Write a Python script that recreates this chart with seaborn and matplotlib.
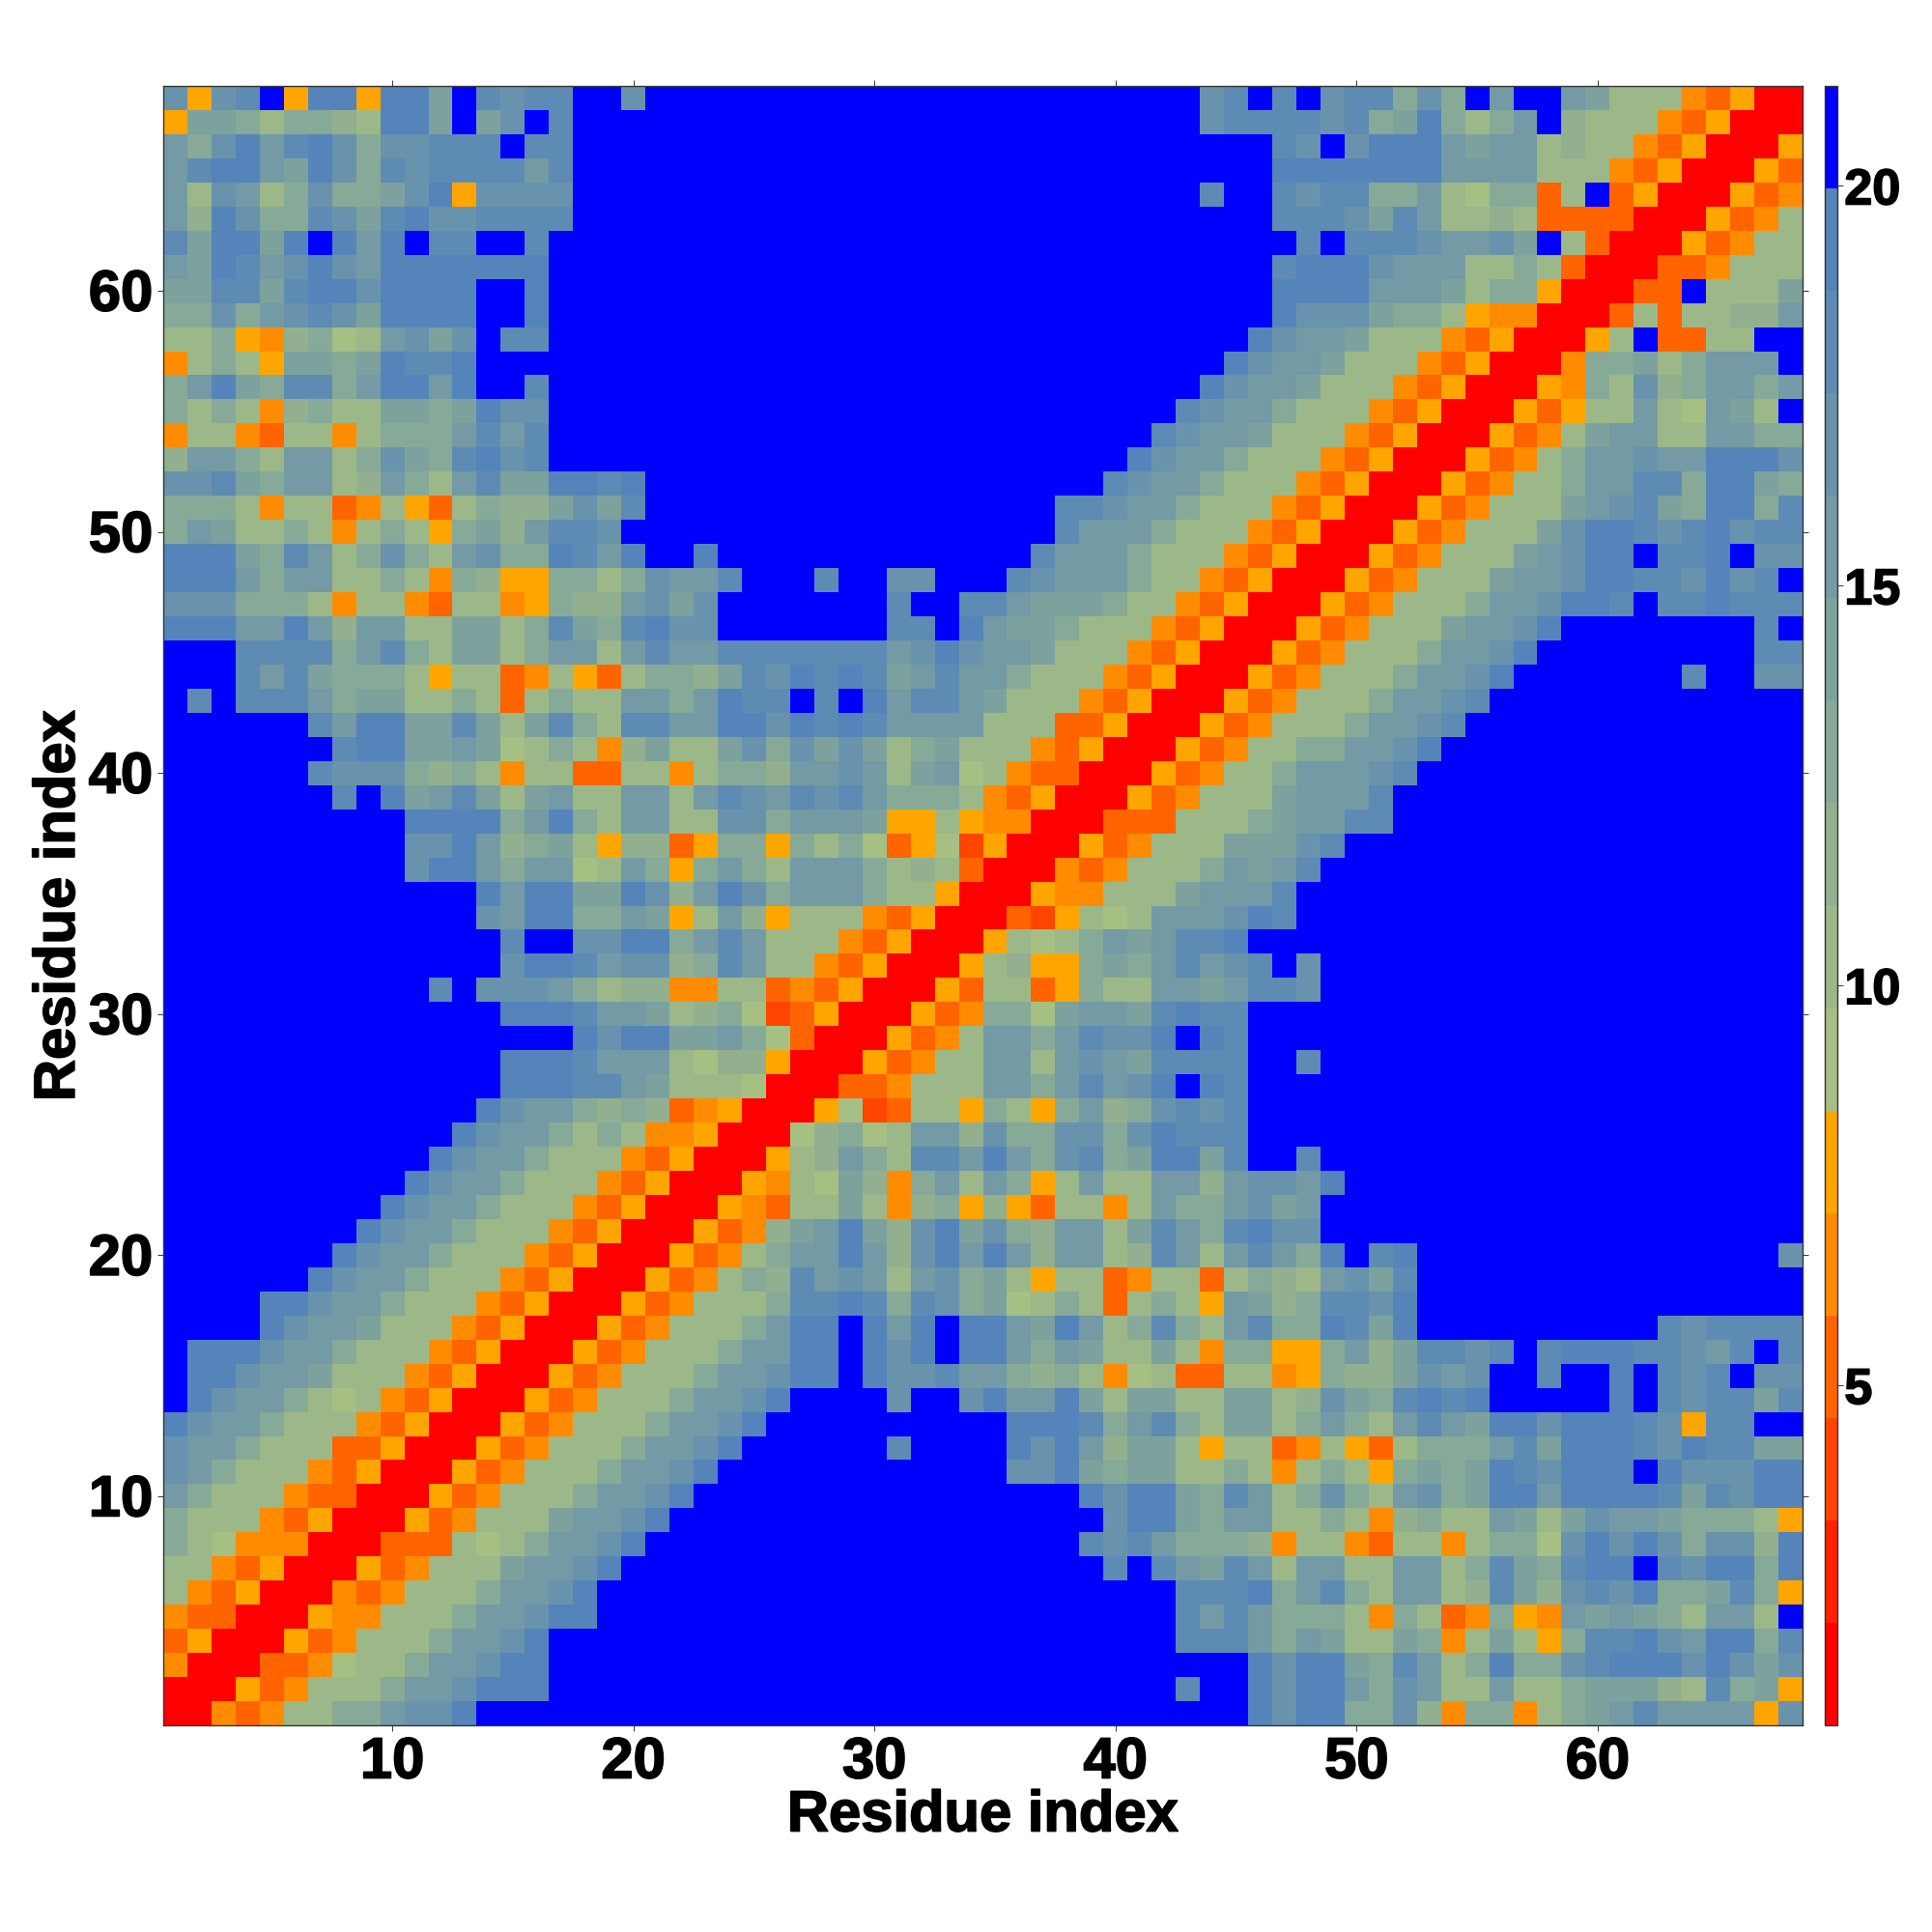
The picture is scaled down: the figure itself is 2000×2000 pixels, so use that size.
import numpy as np
import pandas as pd
import seaborn as sns
import matplotlib.pyplot as plt
import matplotlib.patheffects as pe
from matplotlib.colors import ListedColormap
from matplotlib.transforms import ScaledTranslation

# pair distances, one list per residue (the map is symmetric)
r68 = [17,8,17,18,21,8,19,19,8,19,19,14,21,18,17,18,18,21,21,17,21,21,21,21,21,21,21,21,21,21,21,21,21,21,21,21,21,21,21,21,21,21,21,17,18,21,18,21,17,18,18,13,17,13,21,15,21,21,15,14,10,10,10,7,5,8,1,1]
r67 = [8,14,14,13,10,13,13,12,10,19,19,14,21,14,17,21,18,21,21,21,21,21,21,21,21,21,21,21,21,21,21,21,21,21,21,21,21,21,21,21,21,21,21,17,18,18,18,18,17,18,13,14,19,13,10,13,15,21,12,10,10,10,7,5,8,1,1]
r66 = [15,13,17,19,15,18,19,17,13,17,17,18,18,18,21,18,18,21,21,21,21,21,21,21,21,21,21,21,21,21,21,21,21,21,21,21,21,21,21,21,21,21,21,21,21,21,18,17,21,17,19,19,19,15,14,15,15,10,12,10,10,7,5,8,1,1]
r65 = [15,18,19,19,15,14,19,17,13,18,17,18,18,18,18,15,18,21,21,21,21,21,21,21,21,21,21,21,21,21,21,21,21,21,21,21,21,21,21,21,21,21,21,21,21,21,19,19,19,19,19,19,19,15,15,15,15,10,10,10,7,5,8,1,1]
r64 = [15,10,17,15,10,13,17,13,13,14,17,19,8,17,17,17,17,21,21,21,21,21,21,21,21,21,21,21,21,21,21,21,21,21,21,21,21,21,21,21,21,21,21,18,21,21,18,17,18,18,13,13,15,10,9,13,13,5,10,21,5,8,1,1]
r63 = [15,12,19,17,13,13,18,17,14,18,19,17,17,18,18,18,18,21,21,21,21,21,21,21,21,21,21,21,21,21,21,21,21,21,21,21,21,21,21,21,21,21,21,21,21,21,18,18,18,17,14,18,15,10,10,12,10,5,5,5,5,1,1]
r62 = [18,14,19,19,14,19,21,19,15,19,21,18,18,21,21,18,21,21,21,21,21,21,21,21,21,21,21,21,21,21,21,21,21,21,21,21,21,21,21,21,21,21,21,21,21,21,21,18,21,18,18,18,17,15,15,17,14,21,10,5,1,1]
r61 = [15,14,19,18,15,17,19,17,15,19,19,19,19,19,19,19,21,21,21,21,21,21,21,21,21,21,21,21,21,21,21,21,21,21,21,21,21,21,21,21,21,21,21,21,21,21,18,19,19,19,17,15,15,15,10,10,13,10,5,1,1]
r60 = [14,14,18,18,14,18,19,19,17,19,19,19,19,21,21,19,21,21,21,21,21,21,21,21,21,21,21,21,21,21,21,21,21,21,21,21,21,21,21,21,21,21,21,21,21,21,19,19,19,19,15,15,15,14,10,13,13,8,1,1]
r59 = [13,13,17,13,15,17,18,17,14,19,19,19,19,21,21,19,21,21,21,21,21,21,21,21,21,21,21,21,21,21,21,21,21,21,21,21,21,21,21,21,21,21,21,21,21,21,19,17,17,17,14,13,13,10,8,7,7,1,1]
r58 = [10,10,13,8,7,12,13,9,10,15,17,14,17,21,18,18,21,21,21,21,21,21,21,21,21,21,21,21,21,21,21,21,21,21,21,21,21,21,21,21,21,21,21,21,21,19,17,15,15,14,10,10,10,7,5,8,1,1]
r57 = [7,10,13,10,8,14,14,13,14,19,18,18,19,21,21,21,21,21,21,21,21,21,21,21,21,21,21,21,21,21,21,21,21,21,21,21,21,21,21,21,21,21,21,21,19,17,15,15,14,10,10,10,7,5,8,1,1]
r56 = [13,15,19,14,13,18,18,13,15,19,19,15,19,21,21,18,21,21,21,21,21,21,21,21,21,21,21,21,21,21,21,21,21,21,21,21,21,21,21,21,21,21,21,19,17,15,15,14,10,10,10,7,5,8,1,1]
r55 = [13,10,13,10,7,12,13,10,10,14,14,13,14,19,17,17,21,21,21,21,21,21,21,21,21,21,21,21,21,21,21,21,21,21,21,21,21,21,21,21,21,21,18,17,15,15,13,10,10,10,7,5,8,1,1]
r54 = [7,10,10,7,5,10,10,7,10,13,13,13,15,18,15,18,21,21,21,21,21,21,21,21,21,21,21,21,21,21,21,21,21,21,21,21,21,21,21,21,21,18,17,15,15,14,10,10,10,7,5,8,1,1]
r53 = [12,15,15,13,10,15,15,10,13,17,14,13,18,19,17,18,21,21,21,21,21,21,21,21,21,21,21,21,21,21,21,21,21,21,21,21,21,21,21,21,19,17,15,15,13,10,10,10,7,5,8,1,1]
r52 = [17,17,18,14,13,15,15,10,12,15,13,10,15,18,14,14,19,19,18,19,21,21,21,21,21,21,21,21,21,21,21,21,21,21,21,21,21,21,21,18,17,15,15,13,10,10,10,7,5,8,1,1]
r51 = [13,13,13,10,7,10,10,5,7,10,8,5,10,13,12,12,14,17,14,18,21,21,21,21,21,21,21,21,21,21,21,21,21,21,21,21,21,18,18,17,15,15,13,10,10,10,7,5,8,1,1]
r50 = [13,15,14,10,10,13,10,7,10,13,10,8,13,14,12,15,18,18,17,21,21,21,21,21,21,21,21,21,21,21,21,21,21,21,21,21,21,18,15,15,15,13,10,10,10,7,5,8,1,1]
r49 = [19,19,19,14,13,18,15,10,13,17,13,10,15,17,13,13,19,18,15,19,21,21,19,21,21,21,21,21,21,21,21,21,21,21,21,21,18,15,15,15,13,10,10,10,7,5,8,1,1]
r48 = [19,19,19,15,13,15,15,10,10,13,10,7,13,12,8,8,13,13,10,13,17,15,15,18,21,21,21,18,21,21,17,17,21,21,21,18,17,15,15,15,13,10,10,7,5,8,1,1]
r47 = [17,17,17,13,13,13,10,7,10,10,7,5,10,10,7,8,13,12,12,15,17,14,17,21,21,21,21,21,21,21,18,21,21,18,18,15,14,14,14,13,10,10,7,5,8,1,1]
r46 = [19,19,19,15,15,19,15,12,15,15,10,10,14,14,10,13,18,14,13,18,19,17,17,21,21,21,21,21,21,21,18,18,21,19,15,14,14,13,10,10,10,7,5,8,1,1]
r45 = [21,21,21,18,18,18,18,13,15,18,13,10,14,14,10,13,15,15,10,15,18,15,15,18,18,18,18,18,18,18,15,17,19,17,15,15,14,10,10,10,7,5,8,1,1]
r44 = [21,21,21,18,15,18,14,13,13,13,10,8,10,10,5,7,10,8,5,10,13,13,12,14,18,17,19,18,19,18,14,15,18,15,15,13,10,10,10,7,5,8,1,1]
r43 = [21,18,21,18,18,18,15,13,14,14,10,10,13,10,5,10,13,10,10,15,15,13,15,19,18,18,21,18,21,19,15,18,18,15,14,10,10,10,7,5,8,1,1]
r42 = [21,21,21,21,21,21,18,15,19,19,14,14,18,14,10,14,18,13,10,18,18,15,15,19,19,17,19,18,19,18,15,15,15,15,10,10,10,5,5,8,1,1]
r41 = [21,21,21,21,21,21,21,18,19,19,14,14,15,14,9,10,13,10,7,12,14,10,10,14,17,13,17,14,17,14,10,13,14,10,10,10,7,5,8,1,1]
r40 = [21,21,21,21,21,21,18,17,17,17,13,12,13,10,7,10,10,5,5,10,10,7,10,13,13,12,15,15,17,15,10,14,15,9,10,7,5,5,1,1]
r39 = [21,21,21,21,21,21,21,18,21,19,14,15,18,14,10,14,15,10,10,15,15,10,15,18,17,15,18,17,18,15,13,13,13,10,7,5,8,1,1]
r38 = [21,21,21,21,21,21,21,21,21,21,19,19,19,19,13,15,19,13,10,15,15,10,10,17,17,13,15,15,15,14,8,8,10,8,7,7,1,1]
r37 = [21,21,21,21,21,21,21,21,21,21,17,17,19,15,12,13,14,10,8,12,12,5,8,13,13,8,13,10,13,9,5,8,9,4,8,1,1]
r36 = [21,21,21,21,21,21,21,21,21,21,17,19,19,15,13,15,15,9,10,15,13,8,13,15,13,10,15,15,15,13,10,12,10,5,1,1]
r35 = [21,21,21,21,21,21,21,21,21,21,21,21,21,19,15,19,19,14,14,19,17,12,15,19,17,13,15,15,15,13,10,10,8,1,1]
r34 = [21,21,21,21,21,21,21,21,21,21,21,21,21,17,15,19,19,13,13,15,14,8,10,15,12,8,10,10,10,7,5,8,1,1]
r33 = [21,21,21,21,21,21,21,21,21,21,21,21,21,21,18,21,21,17,17,19,19,13,15,18,15,10,10,10,7,5,8,1,1]
r32 = [21,21,21,21,21,21,21,21,21,21,21,21,21,21,17,19,19,18,15,17,17,12,13,18,15,10,10,7,5,8,1,1]
r31 = [21,21,21,21,21,21,21,21,21,21,21,18,21,17,17,17,15,13,10,12,12,7,7,10,10,5,7,5,8,1,1]
r30 = [21,21,21,21,21,21,21,21,21,21,21,21,21,21,19,19,19,18,15,15,14,10,12,13,9,4,5,8,1,1]
r29 = [21,21,21,21,21,21,21,21,21,21,21,21,21,21,21,21,21,19,17,19,19,14,14,15,13,9,5,1,1]
r28 = [21,21,21,21,21,21,21,21,21,21,21,21,21,21,19,19,19,18,15,15,15,10,9,12,12,8,1,1]
r27 = [21,21,21,21,21,21,21,21,21,21,21,21,21,21,19,19,19,18,18,15,14,10,10,10,9,1,1]
r26 = [21,21,21,21,21,21,21,21,21,21,21,21,21,19,17,15,15,13,12,13,12,5,7,8,1,1]
r25 = [21,21,21,21,21,21,21,21,21,21,21,21,19,17,15,15,13,10,13,10,7,7,8,1,1]
r24 = [21,21,21,21,21,21,21,21,21,21,21,19,17,15,15,13,10,10,10,7,5,8,1,1]
r23 = [21,21,21,21,21,21,21,21,21,21,19,17,15,15,13,10,10,10,7,5,8,1,1]
r22 = [21,21,21,21,21,21,21,21,21,19,17,15,15,13,10,10,10,7,5,8,1,1]
r21 = [21,21,21,21,21,21,21,21,19,17,15,15,13,10,10,10,7,5,8,1,1]
r20 = [21,21,21,21,21,21,21,19,17,15,15,13,10,10,10,7,5,8,1,1]
r19 = [21,21,21,21,21,21,19,17,15,15,13,10,10,10,7,5,8,1,1]
r18 = [21,21,21,21,19,19,17,15,15,13,10,10,10,7,5,8,1,1]
r17 = [21,21,21,21,19,17,15,15,14,10,10,10,7,5,8,1,1]
r16 = [21,19,19,19,17,15,15,13,10,10,10,7,5,8,1,1]
r15 = [21,19,19,17,15,15,14,10,10,10,7,5,8,1,1]
r14 = [21,19,17,15,15,13,10,9,10,7,5,8,1,1]
r13 = [19,17,15,15,13,10,10,10,7,5,8,1,1]
r12 = [17,15,15,13,10,10,10,5,5,8,1,1]
r11 = [17,15,13,10,10,10,7,5,8,1,1]
r10 = [15,13,10,10,10,7,5,5,1,1]
r9 = [13,10,10,10,7,5,8,1,1]
r8 = [13,10,9,7,7,7,1,1]
r7 = [10,10,7,5,8,1,1]
r6 = [10,7,5,8,1,1]
r5 = [7,5,5,1,1]
r4 = [5,8,1,1]
r3 = [7,1,1]
r2 = [1,1]
r1 = [1]

rows = [r1, r2, r3, r4, r5, r6, r7, r8, r9, r10, r11, r12, r13, r14, r15, r16, r17,
        r18, r19, r20, r21, r22, r23, r24, r25, r26, r27, r28, r29, r30, r31, r32, r33,
        r34, r35, r36, r37, r38, r39, r40, r41, r42, r43, r44, r45, r46, r47, r48, r49,
        r50, r51, r52, r53, r54, r55, r56, r57, r58, r59, r60, r61, r62, r63, r64, r65,
        r66, r67, r68]

residue_ticks = [10, 20, 30, 40, 50, 60]
cbar_ticks = [5, 10, 15, 20]
level_colors = ['#ff0000', '#ff2000', '#ff4500', '#ff6400', '#ff8c00', '#ffa500',
                '#a6bf82', '#9cb889', '#92b090', '#87a997', '#7da29e', '#739aa5',
                '#6993ac', '#5e8bb3', '#5484ba', '#0000ff']

n = len(rows)
dist = np.zeros((n, n))
for i, row in enumerate(rows):
    assert len(row) == i + 1, (i + 1, len(row))
    dist[i, :i + 1] = row
    dist[:i + 1, i] = row
dist = pd.DataFrame(dist, index=range(1, n + 1), columns=range(1, n + 1))

sns.set_style('ticks')
plt.rcParams['font.family'] = ['Liberation Sans', 'DejaVu Sans']
plt.rcParams['font.weight'] = 'bold'
plt.rcParams['text.color'] = 'black'
plt.rcParams['axes.labelcolor'] = 'black'
plt.rcParams['xtick.labelcolor'] = 'black'
plt.rcParams['ytick.labelcolor'] = 'black'

fig = plt.figure(figsize=(20, 20), dpi=100)
ax = fig.add_axes([169 / 2000, 1 - 1786 / 2000, 1697 / 2000, 1697 / 2000])
cax = fig.add_axes([1889 / 2000, 1 - 1786 / 2000, 13 / 2000, 1697 / 2000])

sns.heatmap(dist, ax=ax, cbar_ax=cax, cmap=ListedColormap(level_colors), vmin=0.75, vmax=21.25,
            linewidths=0, cbar_kws={'ticks': cbar_ticks})
ax.set_ylim(0, n)

tick_pos = [t - 0.5 for t in residue_ticks]
ax.set_xticks(tick_pos)
ax.set_xticklabels(residue_ticks, rotation=0, fontsize=43, fontweight='bold')
ax.set_yticks(tick_pos)
ax.set_yticklabels(residue_ticks, rotation=0, fontsize=43, fontweight='bold')
ax.tick_params(axis='both', which='major', length=4.3, width=0.7, color='#333333',
               labelcolor='black', top=True, right=True)
ax.tick_params(axis='x', pad=4)
ax.tick_params(axis='y', pad=3.5)
for side in ax.spines:
    ax.spines[side].set_visible(True)
    ax.spines[side].set_linewidth(1)
    ax.spines[side].set_color('#333333')

ax.set_xlabel('Residue index', fontsize=43, fontweight='bold', color='black', labelpad=0)
ax.set_ylabel('Residue index', fontsize=43, fontweight='bold', color='black', labelpad=2)

cbar = ax.collections[0].colorbar
cbar.outline.set_linewidth(1)
cbar.outline.set_edgecolor('#333333')
cax.tick_params(length=4.3, width=0.7, color='#333333', labelcolor='black', labelsize=37.5, pad=1)

# the reference digits are heavier than Liberation bold and sit a little lower on the y axis
heavy = [pe.withStroke(linewidth=1.2, foreground='black')]
shift_down = ScaledTranslation(0, -3.6 / 72, fig.dpi_scale_trans)
for lab in ax.get_yticklabels():
    lab.set_transform(lab.get_transform() + shift_down)
texts = ax.get_xticklabels() + ax.get_yticklabels() + cax.get_yticklabels() + [ax.xaxis.label, ax.yaxis.label]
for lab in texts:
    lab.set_path_effects(heavy)
for lab in cax.get_yticklabels():
    lab.set_fontweight('bold')

fig.savefig('out.png', dpi=100)
